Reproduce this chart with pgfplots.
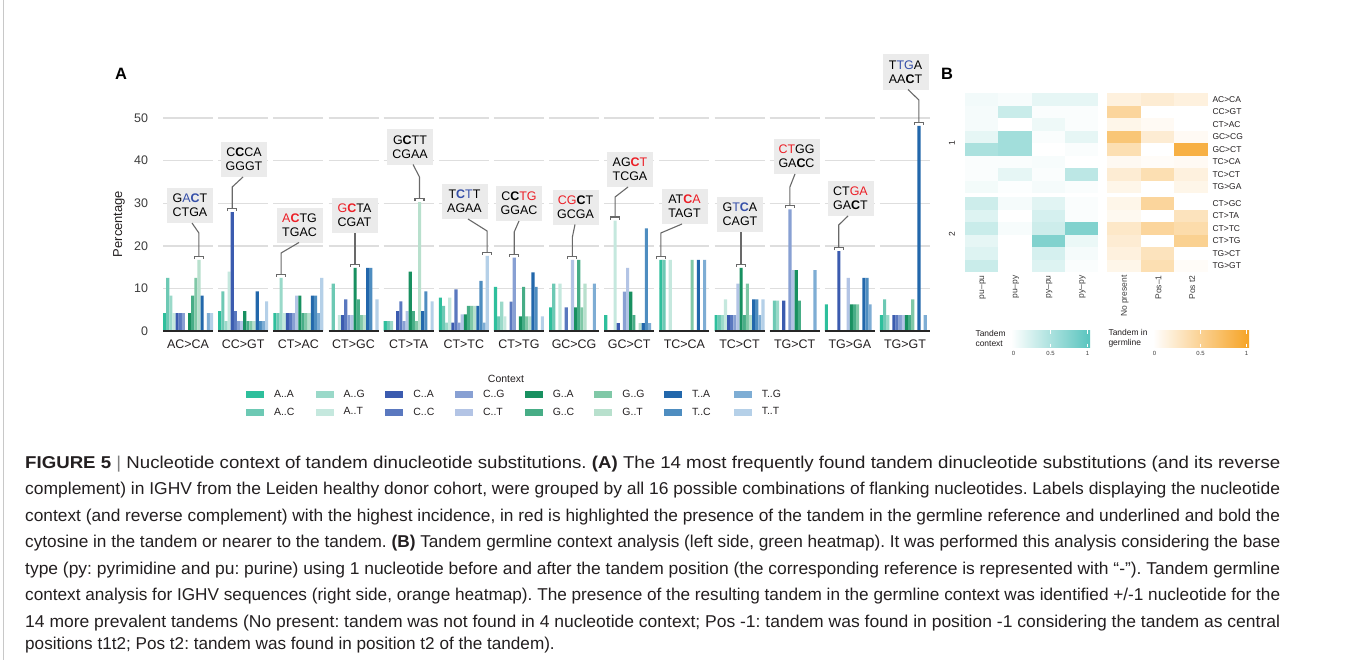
\documentclass[border=0pt]{standalone}
\usepackage{fontspec}
\setmainfont{Liberation Sans}
\usepackage{pgfplots}
\pgfplotsset{compat=1.18}
\usepackage{pgfplotstable}

\definecolor{cAA}{RGB}{46,191,156}
\definecolor{cAC}{RGB}{109,201,180}
\definecolor{cAG}{RGB}{154,217,201}
\definecolor{cAT}{RGB}{197,232,222}
\definecolor{cCA}{RGB}{59,91,175}
\definecolor{cCC}{RGB}{90,120,191}
\definecolor{cCG}{RGB}{136,160,211}
\definecolor{cCT}{RGB}{179,196,229}
\definecolor{cGA}{RGB}{24,144,96}
\definecolor{cGC}{RGB}{71,173,134}
\definecolor{cGG}{RGB}{128,200,167}
\definecolor{cGT}{RGB}{184,224,205}
\definecolor{cTA}{RGB}{34,103,171}
\definecolor{cTC}{RGB}{78,141,192}
\definecolor{cTG}{RGB}{126,173,212}
\definecolor{cTT}{RGB}{181,208,232}
\definecolor{gridc}{RGB}{222,222,222}
\definecolor{boxc}{RGB}{235,235,235}
\definecolor{ldrc}{RGB}{105,105,105}
\definecolor{hred}{RGB}{236,30,38}
\definecolor{hblue}{RGB}{52,78,168}
\definecolor{tealc}{RGB}{88,196,190}
\definecolor{orc}{RGB}{246,163,36}
\definecolor{txt}{RGB}{35,31,32}
\definecolor{tick}{RGB}{60,60,60}
\definecolor{framec}{RGB}{200,200,200}

\newcommand\R[1]{\textcolor{hred}{#1}}
\newcommand\B[1]{\textcolor{hblue}{#1}}

\pgfdeclareplotmark{cellL}{\pgfpathrectangle{\pgfpoint{-16.625bp}{-6.25bp}}{\pgfpoint{33.25bp}{12.5bp}}\pgfusepathqfill}
\pgfdeclareplotmark{cellR}{\pgfpathrectangle{\pgfpoint{-16.835bp}{-6.25bp}}{\pgfpoint{33.67bp}{12.5bp}}\pgfusepathqfill}

\pgfplotstableread{
g AA AC AG AT CA CC CG CT GA GC GG GT TA TC TG TT
0 4.17 12.5 8.33 4.17 4.17 4.17 4.17 0 4.17 8.33 12.5 16.67 8.33 0 4.17 4.17
1 4.65 9.3 2.33 13.95 27.91 4.65 2.33 2.33 4.65 2.33 2.33 2.33 9.3 2.33 2.33 6.98
2 4.17 4.17 12.5 4.17 4.17 4.17 4.17 8.33 8.33 4.17 4.17 4.17 8.33 8.33 4.17 12.5
3 0 11.11 0 3.7 3.7 7.41 3.7 3.7 14.81 7.41 3.7 3.7 14.81 14.81 0 7.41
4 2.33 2.33 2.33 0 4.65 6.98 2.33 4.65 13.95 4.65 2.33 30.23 4.65 9.3 0 6.98
5 7.84 5.88 1.96 7.84 1.96 9.8 1.96 3.92 3.92 5.88 5.88 5.88 5.88 11.76 1.96 17.65
6 10.34 3.45 6.9 3.45 0 6.9 17.24 0 3.45 10.34 3.45 3.45 13.79 10.34 0 3.45
7 5.56 11.11 0 11.11 0 5.56 0 16.67 5.56 16.67 5.56 11.11 0 0 11.11 0
8 3.7 0 0 25.93 1.85 0 9.26 14.81 9.26 3.7 0 1.85 1.85 24.07 1.85 0
9 16.67 16.67 0 16.67 0 0 0 0 0 0 16.67 0 16.67 0 16.67 0
10 3.7 3.7 3.7 7.41 3.7 3.7 3.7 11.11 14.81 3.7 11.11 3.7 7.41 7.41 3.7 7.41
11 0 7.14 7.14 0 7.14 0 28.57 14.29 14.29 7.14 0 0 0 0 14.29 0
12 6.25 0 0 0 18.75 0 0 12.5 6.25 6.25 6.25 0 12.5 12.5 6.25 0
13 3.7 7.41 3.7 0 3.7 3.7 3.7 3.7 3.7 3.7 7.41 0 48.15 0 3.7 0
}\bardata

\pgfplotstableread{
x y v
0 0 0.08
1 0 0.05
2 0 0.15
3 0 0.15
0 1 0.06
1 1 0.32
2 1 0.03
3 1 0.03
0 2 0.06
1 2 0
2 2 0.10
3 2 0.03
0 3 0.15
1 3 0.55
2 3 0.03
3 3 0.15
0 4 0.50
1 4 0.55
2 4 0
3 4 0.03
0 5 0.03
1 5 0.03
2 5 0.05
3 5 0
0 6 0.03
1 6 0.15
2 6 0.03
3 6 0.40
0 7 0.07
1 7 0.02
2 7 0.06
3 7 0.03
0 8.32 0.30
1 8.32 0.06
2 8.32 0.18
3 8.32 0.03
0 9.32 0.20
1 9.32 0
2 9.32 0.25
3 9.32 0.03
0 10.32 0.32
1 10.32 0.05
2 10.32 0.30
3 10.32 0.75
0 11.32 0.15
1 11.32 0
2 11.32 0.75
3 11.32 0.12
0 12.32 0.20
1 12.32 0
2 12.32 0.25
3 12.32 0.06
0 13.32 0.32
1 13.32 0
2 13.32 0.20
3 13.32 0.03
}\heatL

\pgfplotstableread{
x y v
0 0 0.15
1 0 0.20
2 0 0.15
0 1 0.45
1 1 0
2 1 0
0 2 0.10
1 2 0.05
2 2 0
0 3 0.62
1 3 0.20
2 3 0.05
0 4 0.35
1 4 0
2 4 0.85
0 5 0.06
1 5 0.03
2 5 0.05
0 6 0.20
1 6 0.35
2 6 0.15
0 7 0.10
1 7 0
2 7 0.10
0 8.32 0.10
1 8.32 0.45
2 8.32 0
0 9.32 0.07
1 9.32 0
2 9.32 0.30
0 10.32 0.25
1 10.32 0.45
2 10.32 0.38
0 11.32 0.20
1 11.32 0
2 11.32 0.50
0 12.32 0.15
1 12.32 0.30
2 12.32 0
0 13.32 0.10
1 13.32 0.35
2 13.32 0.03
}\heatR

\tikzset{
  lbox/.style={fill=boxc, minimum width=46bp, minimum height=35bp, inner sep=0pt, align=center, font=\fontsize{12.5}{14}\selectfont, text=black},
  ldr/.style={draw=ldrc, line width=1.1bp},
}
\newcommand\brk[2]{\draw[ldr] (#1-4.5,#2+2.5) -- (#1-4.5,#2) -- (#1+4.5,#2) -- (#1+4.5,#2+2.5);}
\newcommand\jl[1]{\resizebox{1255bp}{\height}{#1}}

\begin{document}
\frenchspacing
\begin{tikzpicture}
\path[fill=white, use as bounding box] (0,0) rectangle (1355bp,-660bp);
\draw[framec, line width=1bp] (3.5bp,0) -- (3.5bp,-660bp);

% ---------------- Panel A ----------------
\begin{axis}[
  at={(160.5bp,-331bp)}, anchor=south west,
  scale only axis, width=772bp, height=234.3bp,
  xmin=-0.5, xmax=13.5, ymin=0, ymax=55,
  ybar=0pt, bar width=3.125bp,
  axis line style={draw=none}, tick style={draw=none},
  xtick={0,...,13},
  xticklabels={AC>CA,CC>GT,CT>AC,CT>GC,CT>TA,CT>TC,CT>TG,GC>CG,GC>CT,TC>CA,TC>CT,TG>CT,TG>GA,TG>GT},
  ytick={0,10,20,30,40,50},
  /pgf/number format/assume math mode=true,
  xticklabel style={font=\fontsize{12.5}{14}\selectfont, text=txt, yshift=-1bp},
  yticklabel style={font=\fontsize{12.5}{14}\selectfont, text=tick, xshift=-9bp},
  clip=false,
  legend image code/.code={\fill[#1, draw=none] (0bp,-3.5bp) rectangle (18bp,3.5bp); \path (26bp,0bp);},
  transpose legend, legend columns=2,
  legend cell align=left,
  legend style={at={(axis description cs:0.1108,-0.243)}, anchor=north west,
    draw=none, fill=none, inner sep=0pt, outer sep=0pt,
    font=\fontsize{10.5}{12}\selectfont, text=txt,
    /tikz/every odd column/.style={column sep=0pt},
    /tikz/every even column/.style={column sep=0pt},
    row sep=5bp},
]
\pgfplotsinvokeforeach{0,...,13}{
  \draw[gridc, line width=1.4bp] (axis cs:#1-0.4534,10) -- (axis cs:#1+0.4534,10);
  \draw[gridc, line width=1.4bp] (axis cs:#1-0.4534,20) -- (axis cs:#1+0.4534,20);
  \draw[gridc, line width=1.4bp] (axis cs:#1-0.4534,30) -- (axis cs:#1+0.4534,30);
  \draw[gridc, line width=1.4bp] (axis cs:#1-0.4534,40) -- (axis cs:#1+0.4534,40);
  \draw[gridc, line width=1.4bp] (axis cs:#1-0.4534,50) -- (axis cs:#1+0.4534,50);
}
\addplot[fill=cAA, draw=none] table[x=g,y=AA]{\bardata}; \addlegendentry{\makebox[39.7bp][l]{A..A}}
\addplot[fill=cAC, draw=none] table[x=g,y=AC]{\bardata}; \addlegendentry{\makebox[39.7bp][l]{A..C}}
\addplot[fill=cAG, draw=none] table[x=g,y=AG]{\bardata}; \addlegendentry{\makebox[39.7bp][l]{A..G}}
\addplot[fill=cAT, draw=none] table[x=g,y=AT]{\bardata}; \addlegendentry{\makebox[39.7bp][l]{A..T}}
\addplot[fill=cCA, draw=none] table[x=g,y=CA]{\bardata}; \addlegendentry{\makebox[39.7bp][l]{C..A}}
\addplot[fill=cCC, draw=none] table[x=g,y=CC]{\bardata}; \addlegendentry{\makebox[39.7bp][l]{C..C}}
\addplot[fill=cCG, draw=none] table[x=g,y=CG]{\bardata}; \addlegendentry{\makebox[39.7bp][l]{C..G}}
\addplot[fill=cCT, draw=none] table[x=g,y=CT]{\bardata}; \addlegendentry{\makebox[39.7bp][l]{C..T}}
\addplot[fill=cGA, draw=none] table[x=g,y=GA]{\bardata}; \addlegendentry{\makebox[39.7bp][l]{G..A}}
\addplot[fill=cGC, draw=none] table[x=g,y=GC]{\bardata}; \addlegendentry{\makebox[39.7bp][l]{G..C}}
\addplot[fill=cGG, draw=none] table[x=g,y=GG]{\bardata}; \addlegendentry{\makebox[39.7bp][l]{G..G}}
\addplot[fill=cGT, draw=none] table[x=g,y=GT]{\bardata}; \addlegendentry{\makebox[39.7bp][l]{G..T}}
\addplot[fill=cTA, draw=none] table[x=g,y=TA]{\bardata}; \addlegendentry{\makebox[39.7bp][l]{T..A}}
\addplot[fill=cTC, draw=none] table[x=g,y=TC]{\bardata}; \addlegendentry{\makebox[39.7bp][l]{T..C}}
\addplot[fill=cTG, draw=none] table[x=g,y=TG]{\bardata}; \addlegendentry{\makebox[39.7bp][l]{T..G}}
\addplot[fill=cTT, draw=none] table[x=g,y=TT]{\bardata}; \addlegendentry{\makebox[39.7bp][l]{T..T}}
\pgfplotsinvokeforeach{0,...,13}{
  \draw[black!85, line width=1.8bp] (axis cs:#1-0.4534,0) -- (axis cs:#1+0.4534,0);
}
\end{axis}

% ---------------- Panel B: heatmaps ----------------
\begin{axis}[
  at={(965bp,-93bp)}, anchor=north west,
  scale only axis, width=133bp, height=179bp,
  xmin=-0.5, xmax=3.5, ymin=-0.5, ymax=13.82, y dir=reverse,
  axis line style={draw=none}, tick style={draw=none},
  xtick={0,1,2,3}, xticklabels={pu–pu,pu–py,py–pu,py–py},
  ytick=\empty,
  xticklabel style={rotate=90, anchor=east, font=\fontsize{8.5}{10}\selectfont, text=tick, yshift=-1bp},
  colormap={tealmap}{color=(white) color=(tealc)},
  point meta min=0, point meta max=1, clip=false,
]
\addplot[scatter, only marks, mark=cellL, point meta=explicit] table[x=x,y=y,meta=v]{\heatL};
\end{axis}

\begin{axis}[
  at={(1107bp,-93bp)}, anchor=north west,
  scale only axis, width=101bp, height=179bp,
  xmin=-0.5, xmax=2.5, ymin=-0.5, ymax=13.82, y dir=reverse,
  axis line style={draw=none}, tick style={draw=none},
  xtick={0,1,2}, xticklabels={No present,Pos–1,Pos t2},
  ytick={0,1,2,3,4,5,6,7,8.32,9.32,10.32,11.32,12.32,13.32},
  yticklabels={AC>CA,CC>GT,CT>AC,GC>CG,GC>CT,TC>CA,TC>CT,TG>GA,CT>GC,CT>TA,CT>TC,CT>TG,TG>CT,TG>GT},
  yticklabel pos=right,
  yticklabel style={anchor=west, font=\fontsize{8.5}{10}\selectfont, text=txt, xshift=1bp},
  xticklabel style={rotate=90, anchor=east, font=\fontsize{8.5}{10}\selectfont, text=tick, yshift=-1bp},
  colormap={ormap}{color=(white) color=(orc)},
  point meta min=0, point meta max=1, clip=false,
]
\addplot[scatter, only marks, mark=cellR, point meta=explicit] table[x=x,y=y,meta=v]{\heatR};
\end{axis}

\begin{scope}[x=1bp,y=-1bp]
% panel letters
\node[font=\fontsize{16.5}{18}\selectfont\bfseries] at (121,74) {A};
\node[font=\fontsize{16.5}{18}\selectfont\bfseries] at (947,74) {B};
\node[rotate=90, font=\fontsize{13}{15}\selectfont, text=txt] at (119,224) {Percentage};
\node[font=\fontsize{10.5}{12}\selectfont, text=txt] at (506,379) {Context};

% labels
\node[lbox] at (190,205.5) {G\B{A}\B{\textbf{C}}T\\CTGA};
\draw[ldr] (192,223) -- (198.9,233) -- (198.9,256.5); \brk{198.9}{256.5}
\node[lbox] at (244,159.5) {C\textbf{C}CA\\GGGT};
\draw[ldr] (243,177) -- (232.2,187) -- (232.2,208.6); \brk{232.2}{208.6}
\node[lbox] at (299.5,225) {\R{A}\R{\textbf{C}}TG\\TGAC};
\draw[ldr] (299,242.5) -- (281.1,253) -- (281.1,274.3); \brk{281.1}{274.3}
\node[lbox] at (354.5,215.5) {\R{G}\R{\textbf{C}}TA\\CGAT};
\draw[ldr] (355,233) -- (355,264.4); \brk{355}{264.4}
\node[lbox] at (410,147) {G\textbf{C}TT\\CGAA};
\draw[ldr] (413,164.5) -- (419.5,177) -- (419.5,198.7); \brk{419.5}{198.7}
\node[lbox] at (464.5,201.5) {T\B{\textbf{C}}\B{T}T\\AGAA};
\draw[ldr] (468,219) -- (487.1,231) -- (487.1,252.3); \brk{487.1}{252.3}
\node[lbox] at (519,203.5) {C\textbf{C}\R{TG}\\GGAC};
\draw[ldr] (519,221) -- (514.2,232) -- (514.2,254.1); \brk{514.2}{254.1}
\node[lbox] at (575.5,207) {\R{CG}\textbf{C}T\\GCGA};
\draw[ldr] (575,224.5) -- (572.4,237) -- (572.4,256.5); \brk{572.4}{256.5}
\node[lbox] at (630,169.5) {AG\R{\textbf{C}T}\\TCGA};
\draw[ldr] (628,187) -- (615.1,197) -- (615.1,217); \brk{615.1}{217}
\node[lbox] at (684.5,206.5) {AT\R{\textbf{C}A}\\TAGT};
\draw[ldr] (682,224) -- (660.8,233) -- (660.8,256.5); \brk{660.8}{256.5}
\node[lbox] at (740,214.5) {G\B{T}\B{\textbf{C}}A\\CAGT};
\draw[ldr] (741,232) -- (741,264.4); \brk{741}{264.4}
\node[lbox] at (796.5,156.5) {\R{CT}GG\\GA\textbf{C}C};
\draw[ldr] (795,174) -- (789.9,187) -- (789.9,205.8); \brk{789.9}{205.8}
\node[lbox] at (850.5,198.5) {CT\R{GA}\\GA\textbf{C}T};
\draw[ldr] (848,216) -- (838.7,225) -- (838.7,247.6); \brk{838.7}{247.6}
\node[lbox] at (905.5,72) {T\B{TG}A\\AA\textbf{C}T};
\draw[ldr] (908,89.5) -- (918.9,100) -- (918.9,122.4); \brk{918.9}{122.4}

% heatmap strip labels
\node[rotate=90, font=\fontsize{8.5}{10}\selectfont, text=txt] at (952,143) {1};
\node[rotate=90, font=\fontsize{8.5}{10}\selectfont, text=txt] at (952,234.5) {2};

% colour bars
\node[anchor=west, align=left, font=\fontsize{8.5}{9.5}\selectfont, text=txt] at (972,338.5) {Tandem\\context};
\shade[left color=white, right color=tealc] (1011,330) rectangle (1090,347);
\foreach \t in {1050.5,1087.5}{\draw[white, line width=0.6bp] (\t,330) -- (\t,333.5) (\t,343.5) -- (\t,347);}
\node[font=\fontsize{6}{7}\selectfont, text=tick] at (1013.5,353) {0};
\node[font=\fontsize{6}{7}\selectfont, text=tick] at (1050.5,353) {0.5};
\node[font=\fontsize{6}{7}\selectfont, text=tick] at (1087.5,353) {1};
\node[anchor=west, align=left, font=\fontsize{8.5}{9.5}\selectfont, text=txt] at (1105,338.5) {Tandem in\\germline};
\shade[left color=white, right color=orc] (1153,330) rectangle (1249,347);
\foreach \t in {1200.5,1246.5}{\draw[white, line width=0.6bp] (\t,330) -- (\t,333.5) (\t,343.5) -- (\t,347);}
\node[font=\fontsize{6}{7}\selectfont, text=tick] at (1154.5,353) {0};
\node[font=\fontsize{6}{7}\selectfont, text=tick] at (1200.5,353) {0.5};
\node[font=\fontsize{6}{7}\selectfont, text=tick] at (1246.5,353) {1};

% caption
\begin{scope}[every node/.style={anchor=base west, inner sep=0pt, font=\fontsize{17.2}{19}\selectfont, text=txt}]
\node at (25,468) {\jl{\textbf{FIGURE 5} {\color{gray}|} Nucleotide context of tandem dinucleotide substitutions. \textbf{(A)} The 14 most frequently found tandem dinucleotide substitutions (and its reverse}};
\node at (25,494.5) {\jl{complement) in IGHV from the Leiden healthy donor cohort, were grouped by all 16 possible combinations of flanking nucleotides. Labels displaying the nucleotide}};
\node at (25,521) {\jl{context (and reverse complement) with the highest incidence, in red is highlighted the presence of the tandem in the germline reference and underlined and bold the}};
\node at (25,547.5) {\jl{cytosine in the tandem or nearer to the tandem. \textbf{(B)} Tandem germline context analysis (left side, green heatmap). It was performed this analysis considering the base}};
\node at (25,574) {\jl{type (py: pyrimidine and pu: purine) using 1 nucleotide before and after the tandem position (the corresponding reference is represented with “-”). Tandem germline}};
\node at (25,600.5) {\jl{context analysis for IGHV sequences (right side, orange heatmap). The presence of the resulting tandem in the germline context was identified +/-1 nucleotide for the}};
\node at (25,627) {\jl{14 more prevalent tandems (No present: tandem was not found in 4 nucleotide context; Pos -1: tandem was found in position -1 considering the tandem as central}};
\node at (25,649) {positions t1t2; Pos t2: tandem was found in position t2 of the tandem).};
\end{scope}
\end{scope}
\end{tikzpicture}
\end{document}
